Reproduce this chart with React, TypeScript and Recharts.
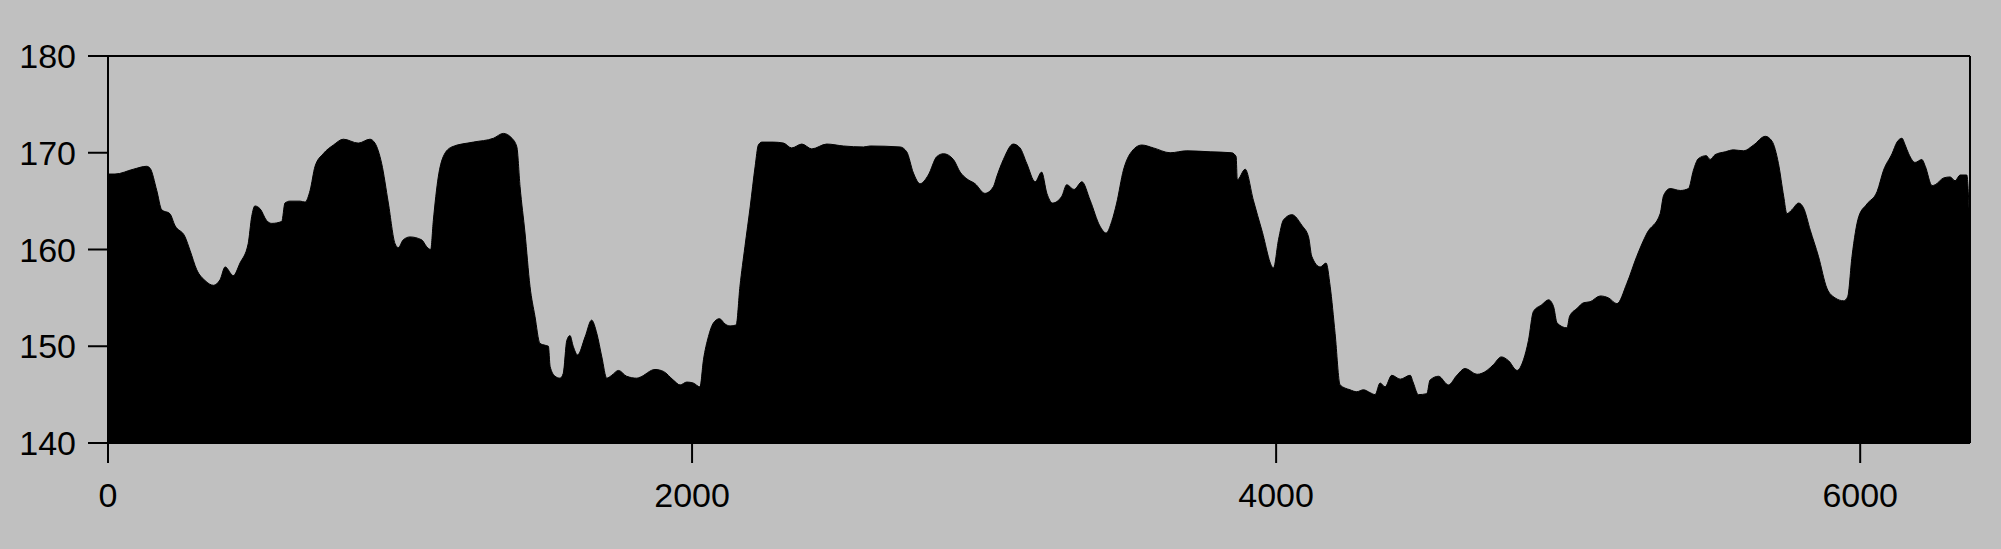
import React from 'react';
import { AreaChart, Area, XAxis, YAxis, ReferenceLine } from 'recharts';

// sample index along the record
const positions = [
  0, 24, 87, 132, 144, 167, 184, 212, 229, 264, 281, 304, 332, 361, 384, 401, 429, 452, 480, 492,
  503, 521, 543, 561, 595, 606, 623, 658, 675, 692, 709, 737, 772, 806, 857, 897, 914, 937, 960, 983,
  994, 1011, 1034, 1074, 1091, 1105, 1114, 1131, 1148, 1177, 1251, 1320, 1354, 1383, 1400, 1411, 1428, 1445, 1462, 1479,
  1497, 1508, 1514, 1531, 1548, 1559, 1571, 1582, 1593, 1608, 1634, 1656, 1674, 1691, 1708, 1725, 1748, 1776, 1811, 1822,
  1873, 1902, 1936, 1959, 1982, 2004, 2027, 2039, 2056, 2073, 2094, 2113, 2130, 2151, 2164, 2181, 2199, 2216, 2227, 2239,
  2278, 2313, 2341, 2376, 2410, 2461, 2518, 2587, 2610, 2712, 2735, 2758, 2781, 2809, 2838, 2861, 2895, 2918, 2941, 2969,
  3003, 3032, 3043, 3066, 3100, 3123, 3146, 3175, 3197, 3215, 3235, 3266, 3283, 3308, 3335, 3363, 3397, 3418, 3437, 3454,
  3477, 3500, 3540, 3580, 3637, 3694, 3774, 3848, 3863, 3867, 3894, 3922, 3951, 3991, 4008, 4025, 4054, 4088, 4111, 4122,
  4151, 4171, 4185, 4202, 4219, 4253, 4276, 4299, 4322, 4339, 4356, 4373, 4396, 4425, 4459, 4470, 4487, 4516, 4527, 4556,
  4590, 4619, 4647, 4688, 4722, 4744, 4771, 4796, 4825, 4847, 4864, 4881, 4910, 4933, 4950, 4962, 4996, 5005, 5030, 5053,
  5075, 5110, 5138, 5167, 5201, 5235, 5270, 5315, 5327, 5349, 5384, 5412, 5429, 5446, 5473, 5486, 5503, 5538, 5566, 5601,
  5635, 5675, 5698, 5720, 5738, 5749, 5766, 5789, 5806, 5829, 5857, 5886, 5914, 5943, 5957, 5972, 5995, 6023, 6058, 6080,
  6109, 6126, 6143, 6154, 6166, 6188, 6211, 6223, 6246, 6257, 6286, 6308, 6325, 6342, 6365, 6373,
];

const heights = [
  167.8, 167.8, 168.3, 168.6, 168.4, 166.1, 164.1, 163.7, 162.5, 161.3, 159.9, 157.9, 156.8, 156.3, 156.9, 158.2, 157.3, 158.6, 160.6, 163.4,
  164.5, 164.2, 163.0, 162.7, 162.9, 164.8, 165.0, 165.0, 164.9, 166.1, 168.6, 169.9, 170.8, 171.4, 171.0, 171.4, 171.0, 168.9, 164.8, 160.6,
  160.2, 161.0, 161.3, 161.0, 160.3, 160.0, 163.0, 167.5, 169.6, 170.6, 171.1, 171.5, 172.0, 171.5, 170.6, 166.5, 161.7, 156.2, 153.1, 150.3,
  150.1, 150.0, 147.9, 146.9, 146.7, 147.2, 150.6, 151.1, 150.0, 149.1, 151.0, 152.7, 151.3, 148.9, 146.7, 147.0, 147.5, 146.9, 146.7, 146.8,
  147.6, 147.4, 146.5, 146.0, 146.3, 146.2, 145.8, 148.6, 151.0, 152.4, 152.85, 152.3, 152.1, 152.2, 156.2, 160.3, 164.4, 168.6, 170.8, 171.1,
  171.1, 171.0, 170.5, 170.9, 170.4, 170.9, 170.7, 170.6, 170.7, 170.6, 170.1, 167.9, 166.8, 167.7, 169.6, 169.9, 169.3, 168.0, 167.3, 166.8,
  165.8, 166.5, 167.5, 169.3, 170.9, 170.5, 168.9, 167.0, 168.0, 165.8, 164.8, 165.5, 166.7, 166.2, 167.0, 165.1, 162.4, 161.7, 162.9, 164.8,
  168.2, 169.9, 170.8, 170.5, 170.0, 170.2, 170.1, 170.0, 169.6, 167.2, 168.3, 165.1, 162.0, 158.1, 161.0, 163.05, 163.6, 162.5, 161.3, 159.3,
  158.2, 158.6, 156.2, 151.3, 146.0, 145.5, 145.3, 145.5, 145.2, 145.0, 146.2, 145.8, 147.0, 146.6, 147.0, 146.2, 145.0, 145.1, 146.5, 146.9,
  146.0, 147.0, 147.7, 147.1, 147.5, 148.1, 148.9, 148.5, 147.5, 148.6, 150.6, 153.6, 154.3, 154.8, 154.1, 152.4, 151.9, 153.1, 153.9, 154.5,
  154.6, 155.2, 155.0, 154.4, 156.5, 159.3, 161.7, 163.7, 165.6, 166.3, 166.1, 166.3, 168.2, 169.4, 169.7, 169.3, 169.8, 170.1, 170.3, 170.2,
  170.8, 171.7, 171.2, 168.9, 165.5, 163.7, 164.1, 164.8, 164.3, 162.0, 159.3, 156.0, 155.0, 154.7, 155.1, 159.3, 163.4, 164.7, 166.0, 168.2,
  169.9, 171.1, 171.5, 170.8, 169.9, 169.0, 169.3, 168.6, 166.6, 166.7, 167.4, 167.5, 167.1, 167.7, 167.7, 164.1,
];

const xTicks = [0, 2000, 4000, 6000];
const yTicks = [140, 150, 160, 170, 180];
const xDomain = [0, 6376];
const yDomain = [140, 180];

const data = positions.map((x, i) => ({ x, h: heights[i] }));

const tickFont = { fill: '#000', fontSize: 34, fontFamily: '"Liberation Sans", Arial, sans-serif' };
const line = { stroke: '#000', strokeWidth: 2 };

export default function App() {
  return (
    <div style={{ position: 'absolute', left: 0, top: 0, width: 2001, height: 549, background: '#c0c0c0' }}>
      <AreaChart width={2001} height={549} data={data} margin={{ top: 56, right: 31, left: 8, bottom: 46 }}>
        <XAxis
          dataKey="x"
          type="number"
          domain={xDomain}
          ticks={xTicks}
          allowDataOverflow
          height={60}
          tickSize={20}
          tickMargin={20}
          axisLine={line}
          tickLine={line}
          tick={tickFont}
        />
        <YAxis
          type="number"
          domain={yDomain}
          ticks={yTicks}
          allowDataOverflow
          width={100}
          tickSize={20}
          tickMargin={12}
          axisLine={line}
          tickLine={line}
          tick={tickFont}
        />
        <Area
          type="monotone"
          dataKey="h"
          stroke="#000"
          strokeWidth={1}
          fill="#000"
          fillOpacity={1}
          dot={false}
          activeDot={false}
          isAnimationActive={false}
        />
        {/* box round the plot region */}
        <ReferenceLine y={yDomain[1]} stroke="#000" strokeWidth={2} ifOverflow="visible" />
        <ReferenceLine x={xDomain[1]} stroke="#000" strokeWidth={2} ifOverflow="visible" />
      </AreaChart>
    </div>
  );
}
